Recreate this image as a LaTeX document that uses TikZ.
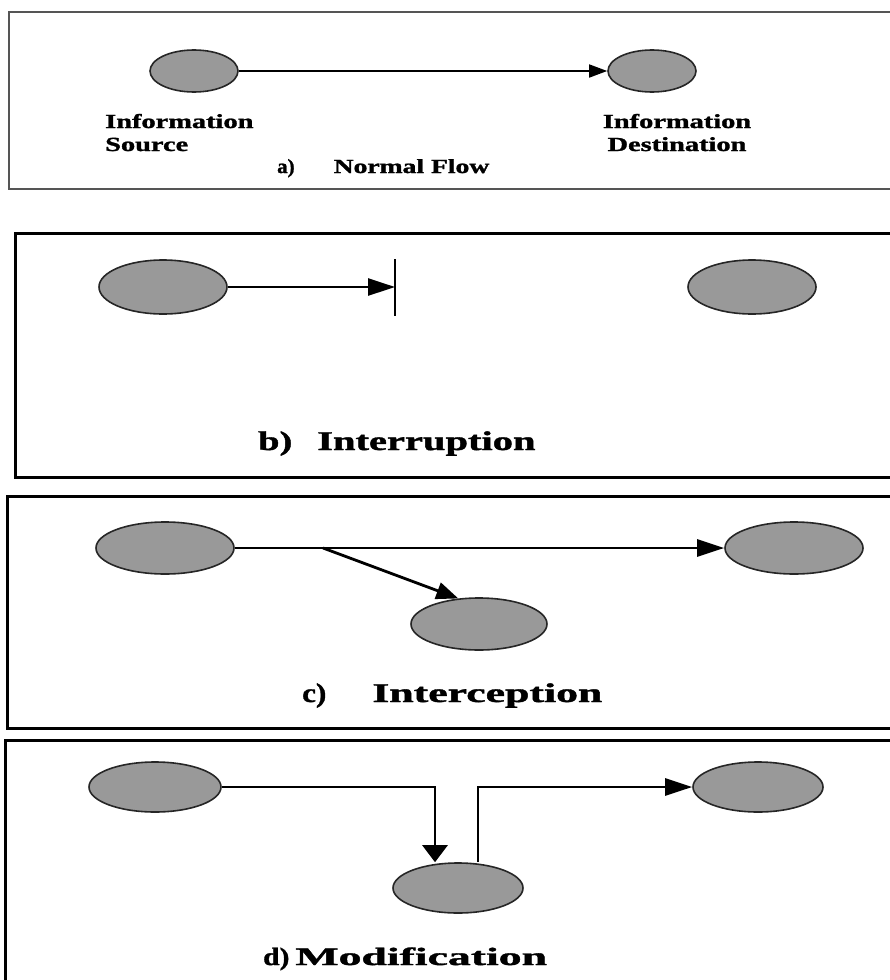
\documentclass[tikz,border=0pt]{standalone}
\usepackage{fontspec}
\setmainfont{Liberation Serif}[BoldFeatures={FakeBold=1.2}]
\usepackage{graphicx}
\usepackage{tikz}
\usetikzlibrary{arrows.meta,shapes.geometric,calc}
\definecolor{ovalgray}{HTML}{999999}
\definecolor{frameA}{HTML}{555555}
\newcommand{\wide}[2]{\scalebox{#1}[1]{#2}}

\begin{document}
\begin{tikzpicture}[x=1pt,y=-1pt,
  oval/.style={ellipse,draw=black!85,line width=1.6pt,fill=ovalgray,inner sep=0pt},
  frame/.style={draw=black,line width=3pt},
  lbl/.style={inner sep=0pt,anchor=base west},
  thinflow/.style={line width=1.7pt,-{Triangle[length=18pt,width=13pt]}},
  hflow/.style={line width=2.8pt,-{Triangle[length=27pt,width=17pt]}},
  vflow/.style={line width=2.8pt,-{Triangle[length=17pt,width=25pt]}}]
\useasboundingbox (0,0) rectangle (889,980);
\fill[white] (0,0) rectangle (889,980);

% frames
\draw[draw=frameA,line width=1.2pt] (9,12) rectangle (900,189);
\draw[frame] (15,233) rectangle (900,477);
\draw[frame] (7,496) rectangle (900,728);
\draw[frame] (5,740) rectangle (900,995);

% a) normal flow
\node[oval,minimum width=88pt,minimum height=42pt] (srcA) at (194,71) {};
\node[oval,minimum width=88pt,minimum height=42pt] (dstA) at (652,71) {};
\draw[thinflow] (srcA) -- (dstA);
\node[lbl,font=\fontsize{20}{23}\selectfont\bfseries] (srcAtxt) at (105,128)
  {\wide{1.42}{\begin{tabular}[t]{@{}l@{}}Information\\Source\end{tabular}}};
\node[inner sep=0pt,anchor=base,font=\fontsize{20}{23}\selectfont\bfseries] (dstAtxt) at (677,128)
  {\wide{1.42}{\begin{tabular}[t]{@{}c@{}}Information\\Destination\end{tabular}}};
\node[lbl,font=\fontsize{20}{23}\selectfont\bfseries] (capA) at (277,173)
  {\wide{1.05}{a)}\hspace{39pt}\wide{1.38}{Normal Flow}};

% b) interruption
\node[oval,minimum width=128pt,minimum height=54pt] (srcB) at (163,287) {};
\node[oval,minimum width=128pt,minimum height=54pt] (dstB) at (752,287) {};
\coordinate (cutB) at (395,287);
\draw[hflow] (srcB) -- (cutB);
\draw[line width=2.8pt] ([yshift=28pt]cutB) -- ([yshift=-29pt]cutB);
\node[lbl,font=\fontsize{27}{32}\selectfont\bfseries] (capB) at (258,450)
  {\wide{1.42}{b)}\hspace{25pt}\wide{1.5}{Interruption}};

% c) interception
\node[oval,minimum width=138pt,minimum height=52pt] (srcC) at (165,548) {};
\node[oval,minimum width=138pt,minimum height=52pt] (dstC) at (794,548) {};
\node[oval,minimum width=136pt,minimum height=52pt] (spyC) at (479,624) {};
\draw[hflow] (srcC) -- (dstC);
\coordinate (tapC) at (323,548);
\draw[line width=2.8pt,-{Triangle[length=22pt,width=17pt]}] (tapC) -- (spyC.129);
\node[lbl,font=\fontsize{27}{32}\selectfont\bfseries] (capC) at (302,702)
  {\wide{1.15}{c)}\hspace{46pt}\wide{1.62}{Interception}};

% d) modification
\node[oval,minimum width=132pt,minimum height=50pt] (srcD) at (155,787) {};
\node[oval,minimum width=130pt,minimum height=50pt] (dstD) at (758,787) {};
\node[oval,minimum width=130pt,minimum height=50pt] (modD) at (458,888) {};
\draw[vflow] (srcD.east) -| ([xshift=-23pt]modD.north);
\draw[hflow] ([xshift=20pt]modD.north) |- (dstD.west);
\node[lbl,font=\fontsize{25}{30}\selectfont\bfseries] (capD) at (263,965)
  {\wide{1.18}{d)}\hspace{6pt}\wide{1.83}{Modification}};
\end{tikzpicture}
\end{document}
